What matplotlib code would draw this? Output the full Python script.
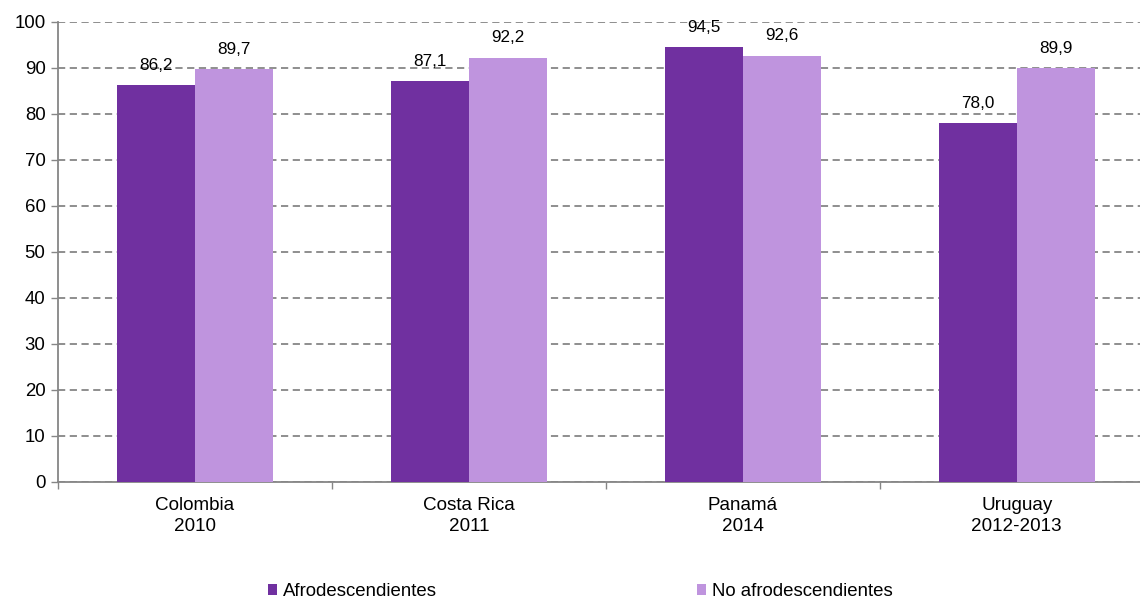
import matplotlib.pyplot as plt
import numpy as np

plt.rcParams['font.family'] = ['Liberation Sans', 'DejaVu Sans']

categorias = ['Colombia\n2010', 'Costa Rica\n2011', 'Panamá\n2014', 'Uruguay\n2012-2013']
afro = [86.2, 87.1, 94.5, 78.0]
no_afro = [89.7, 92.2, 92.6, 89.9]
series = ['Afrodescendientes', 'No afrodescendientes']

oscuro = '#7030A0'
claro = '#BF94DE'
gris = '#868686'

fig = plt.figure(figsize=(11.4, 6.04), dpi=100)
ax = fig.add_axes([0.0509, 0.202, 0.9491, 0.7616])

x = np.arange(len(categorias))
ancho = 0.285
b1 = ax.bar(x - ancho / 2, afro, ancho, color=oscuro, label=series[0], zorder=3)
b2 = ax.bar(x + ancho / 2, no_afro, ancho, color=claro, label=series[1], zorder=3)

# etiquetas de valor con coma decimal
for barras, valores in ((b1, afro), (b2, no_afro)):
    for b, v in zip(barras, valores):
        ax.annotate(f'{v:.1f}'.replace('.', ','),
                    (b.get_x() + b.get_width() / 2, v),
                    xytext=(0, 14.5), textcoords='offset points',
                    ha='center', va='center', fontsize=12.3, color='#000000')

ax.set_ylim(0, 100)
ax.set_xlim(-0.5, 3.45)
ax.set_yticks(range(0, 101, 10))
ax.tick_params(axis='y', labelsize=13.4, length=5, width=1, color=gris, pad=4)

ax.set_xticks(x)
ax.set_xticklabels(categorias, fontsize=13.6, linespacing=1.3)
ax.tick_params(axis='x', which='major', length=0, pad=11)
ax.set_xticks([-0.5, 0.5, 1.5, 2.5], minor=True)
ax.tick_params(axis='x', which='minor', length=5, width=1, color=gris)

ax.yaxis.grid(True, linestyle=(0, (4, 2.5)), color=gris, linewidth=1.3, zorder=0)
ax.set_axisbelow(True)

for lado in ('top', 'right'):
    ax.spines[lado].set_visible(False)
for lado in ('left', 'bottom'):
    ax.spines[lado].set_color(gris)
    ax.spines[lado].set_linewidth(1.3)

fig.legend(loc='lower center', bbox_to_anchor=(0.509, -0.021), ncol=2,
           frameon=False, fontsize=13.4, handlelength=0.5, handleheight=0.5,
           handletextpad=0.3, columnspacing=14.0)

fig.savefig('out.png', dpi=100)
